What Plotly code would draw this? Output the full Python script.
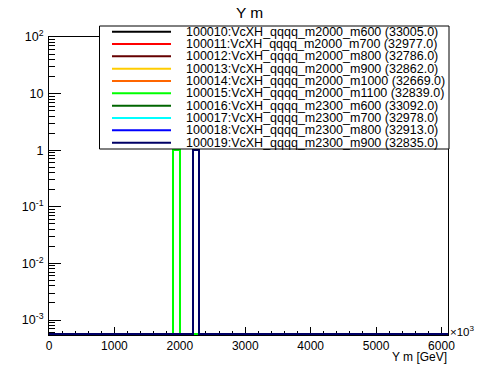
import numpy as np
import plotly.graph_objects as go

# ---------------- data ----------------
bin_edges = np.arange(0, 6200, 100)          # 61 bins, 0 .. 6100 GeV
sample_ids = ["100010", "100011", "100012", "100013", "100014",
              "100015", "100016", "100017", "100018", "100019"]
sample_names = ["VcXH_qqqq_m2000_m600", "VcXH_qqqq_m2000_m700", "VcXH_qqqq_m2000_m800",
                "VcXH_qqqq_m2000_m900", "VcXH_qqqq_m2000_m1000", "VcXH_qqqq_m2000_m1100",
                "VcXH_qqqq_m2300_m600", "VcXH_qqqq_m2300_m700", "VcXH_qqqq_m2300_m800",
                "VcXH_qqqq_m2300_m900"]
entries = ["33005.0", "32977.0", "32786.0", "32862.0", "32669.0",
           "32839.0", "33092.0", "32978.0", "32913.0", "32835.0"]
peak_bin_low = [1900, 1900, 1900, 1900, 1900, 1900, 2200, 2200, 2200, 2200]
peak_value = [1.0, 1.0, 1.0, 1.0, 1.0, 1.0, 1.0, 1.0, 1.0, 1.0]
colors = ["#000000", "#ff0000", "#660000", "#ffcc00", "#ff6600",
          "#00ff00", "#006600", "#00ffff", "#0000ff", "#000066"]

x_tick_vals = [0, 1000, 2000, 3000, 4000, 5000, 6000]
y_tick_vals = [1e-3, 1e-2, 1e-1, 1, 10, 100]
y_tick_text = ["10<sup>-3</sup>", "10<sup>-2</sup>", "10<sup>-1</sup>", "1", "10", "10<sup>2</sup>"]

# ---------------- layout geometry ----------------
W, H = 498, 374
L, R, T, B = 49, 50, 37, 39
pw, ph = W - L - R, H - T - B
ylog_min, ylog_max = -3.265, 2.0
x_range = [0, 6100]


def px(x):
    return (x - L) / pw


def py(y):
    return (H - B - y) / ph


# floor for empty bins so they draw along the bottom of the frame
floor = 10 ** (ylog_min + (ylog_max - ylog_min) / ph * 1.0)

fig = go.Figure()
for i in range(len(sample_ids)):
    counts = np.zeros(len(bin_edges) - 1)
    idx = int(np.searchsorted(bin_edges, peak_bin_low[i]))
    counts[idx] = peak_value[i]
    yv = np.where(counts > 0, counts, floor)
    xs = list(bin_edges)
    ys = list(yv) + [yv[-1]]
    fig.add_trace(go.Scatter(x=xs, y=ys, mode="lines", line_shape="hv",
                             line=dict(color=colors[i], width=2),
                             showlegend=False, hoverinfo="skip"))

font_family = "Liberation Sans, Arial, Helvetica, sans-serif"

fig.update_layout(
    width=W, height=H,
    margin=dict(l=L, r=R, t=T, b=B, pad=0, autoexpand=False),
    paper_bgcolor="white", plot_bgcolor="white",
    font=dict(family=font_family, color="black", size=12),
    showlegend=False,
)

fig.update_xaxes(
    range=x_range, showgrid=False, zeroline=False, automargin=False,
    showline=True, linecolor="black", linewidth=1, mirror=True,
    tickmode="array", tickvals=x_tick_vals, ticks="inside", ticklen=8,
    tickcolor="black", tickwidth=1, tickfont=dict(size=12),
    minor=dict(dtick=200, tick0=0, ticks="inside", ticklen=4, tickcolor="black", showgrid=False),
    layer="below traces",
)
fig.update_yaxes(
    type="log", range=[ylog_min, ylog_max], showgrid=False, zeroline=False, automargin=False,
    showline=True, linecolor="black", linewidth=1, mirror=True,
    tickmode="array", tickvals=y_tick_vals, ticktext=y_tick_text,
    ticks="inside", ticklen=12, tickcolor="black", tickwidth=1,
    tickfont=dict(size=12.5), ticklabelstandoff=2,
    minor=dict(tickmode="array",
               tickvals=[k * 10.0 ** e for e in range(-4, 2) for k in range(2, 10)],
               ticks="inside", ticklen=6, tickcolor="black", showgrid=False),
    layer="below traces",
)

# title and axis annotations
annotations = [
    dict(text="Y m", x=px(249), y=py(13), xref="paper", yref="paper",
         xanchor="center", yanchor="middle", showarrow=False, font=dict(size=15.5)),
    dict(text="Y m [GeV]", x=px(449), y=py(357), xref="paper", yref="paper",
         xanchor="right", yanchor="middle", showarrow=False, font=dict(size=12)),
    dict(text="×10<sup>3</sup>", x=px(448), y=py(331), xref="paper", yref="paper",
         xanchor="left", yanchor="middle", showarrow=False, font=dict(size=11.5)),
]

# legend box
shapes = [dict(type="rect", xref="paper", yref="paper",
               x0=px(99.5), x1=px(449), y0=py(149), y1=py(26),
               line=dict(color="black", width=1), fillcolor="white", layer="above")]
row0, drow = 31.7, 12.33
for i in range(len(sample_ids)):
    yr = row0 + i * drow
    shapes.append(dict(type="line", xref="paper", yref="paper",
                       x0=px(112), x1=px(171), y0=py(yr), y1=py(yr),
                       line=dict(color=colors[i], width=2), layer="above"))
    annotations.append(dict(text=f"{sample_ids[i]}:{sample_names[i]} ({entries[i]})",
                            x=px(184), y=py(yr), xref="paper", yref="paper",
                            xanchor="left", yanchor="middle", showarrow=False,
                            font=dict(size=12.5)))

fig.update_layout(shapes=shapes, annotations=annotations)
fig.write_html(
    "out.html",
    config={"displayModeBar": False},
    post_script=(
        "document.body.style.margin='0px';document.body.style.padding='0px';"
        "document.querySelectorAll('.scatterlayer path').forEach(function(p){"
        "p.style.shapeRendering='crispEdges';});"
    ),
)
